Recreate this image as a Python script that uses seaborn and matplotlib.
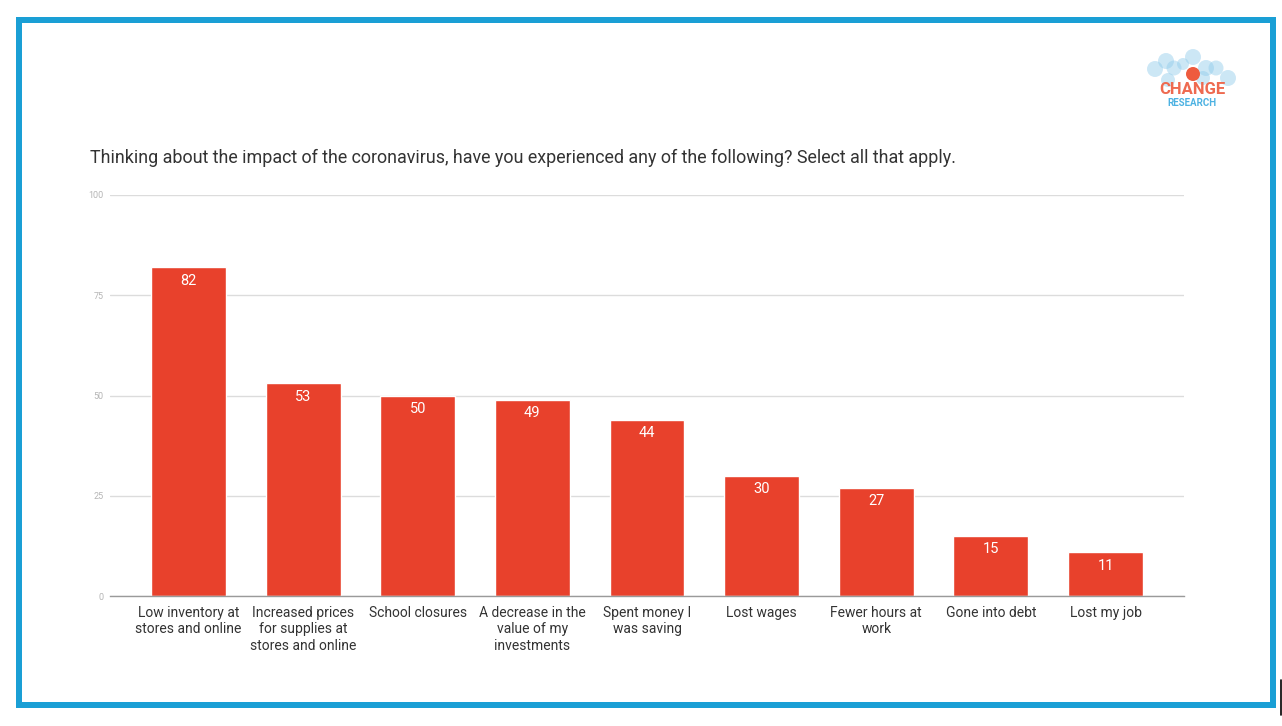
import matplotlib
matplotlib.use('Agg')
import matplotlib.pyplot as plt
import seaborn as sns
import pandas as pd
from matplotlib.patches import Rectangle, Circle
from matplotlib.lines import Line2D
from matplotlib.transforms import IdentityTransform

categories = [
    "Low inventory at\nstores and online",
    "Increased prices\nfor supplies at\nstores and online",
    "School closures",
    "A decrease in the\nvalue of my\ninvestments",
    "Spent money I\nwas saving",
    "Lost wages",
    "Fewer hours at\nwork",
    "Gone into debt",
    "Lost my job",
]
values = [82, 53, 50, 49, 44, 30, 27, 15, 11]
yticks = [0, 25, 50, 75, 100]
title = "Thinking about the impact of the coronavirus, have you experienced any of the following? Select all that apply."

sns.set_theme(style='white')
plt.rcParams['font.family'] = ['Roboto', 'DejaVu Sans']

W, H = 1282, 726
fig = plt.figure(figsize=(W / 100, H / 100), dpi=100)
fig.patch.set_facecolor('white')

def fx(x):
    return x / W

def fy(y):
    return 1 - y / H

ax = fig.add_axes([fx(110), fy(596), fx(1184) - fx(110), fy(195) - fy(596)])
df = pd.DataFrame({'cat': categories, 'val': values})
sns.barplot(data=df, x='cat', y='val', color='#E8412C', saturation=1,
            width=0.654, ax=ax, errorbar=None)
ax.set_xlim(-0.684, 8.684)
ax.set_ylim(0, 100)
ax.set_yticks(yticks)
ax.set_xlabel('')
ax.set_ylabel('')
ax.set_axisbelow(True)
ax.yaxis.grid(True, color='#dcdcdc', lw=1)
ax.xaxis.grid(False)
for s in ['top', 'right', 'left']:
    ax.spines[s].set_visible(False)
ax.spines['bottom'].set_color('#9a9a9a')
ax.spines['bottom'].set_linewidth(1)
ax.tick_params(axis='y', length=0, pad=4.5, labelsize=6.5, labelcolor='#b5b5b5')
ax.tick_params(axis='x', length=0, pad=7, labelsize=10, labelcolor='#333333')
for lbl in ax.get_xticklabels():
    lbl.set_linespacing(1.25)
    lbl.set_verticalalignment('top')

for patch, v in zip(ax.patches, values):
    ax.annotate(str(v), (patch.get_x() + patch.get_width() / 2, v),
                xytext=(0, -9.8), textcoords='offset points',
                ha='center', va='center', color='white', fontsize=10.5)

fig.text(fx(90), fy(158), title, fontsize=12.9, color='#333333', va='center', ha='left')

# border
fig.patches.append(Rectangle((fx(19), fy(705)), fx(1273) - fx(19), fy(20) - fy(705),
                             transform=fig.transFigure, fill=False,
                             edgecolor='#1A9FD5', linewidth=6 * 0.72))
fig.lines.append(Line2D([fx(1281), fx(1281)], [fy(680), fy(715)],
                        transform=fig.transFigure, color='black', lw=1.2))

# logo (pixel coordinates)
px = IdentityTransform()
circles = [(1155, 69, 8), (1166, 61, 8), (1174, 68, 7.5), (1168, 80, 7),
           (1193, 57, 8), (1206, 68, 8), (1216, 68, 7.5), (1203, 78, 7),
           (1228, 78, 8), (1183, 64, 6)]
for cx, cy, r in circles:
    fig.patches.append(Circle((cx, H - cy), r, transform=px,
                              facecolor='#8FCBEB', alpha=0.45, edgecolor='none'))
fig.patches.append(Circle((1193, H - 74), 7, transform=px,
                          facecolor='#EE5B3E', edgecolor='none'))
fig.text(fx(1192), fy(90), 'CHANGE', fontsize=12, fontweight='bold', color='#EE6A50',
         ha='center', va='center')
fig.text(fx(1192), fy(103), 'RESEARCH', fontsize=7, fontweight='bold', color='#4DB2E2',
         ha='center', va='center')

fig.savefig('out.png', dpi=100, facecolor='white')
